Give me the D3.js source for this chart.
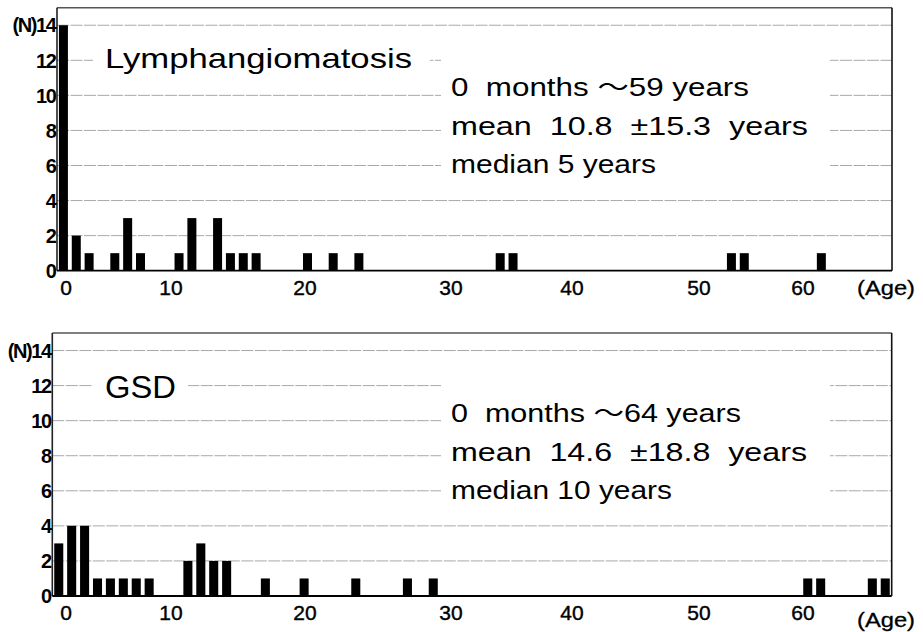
<!DOCTYPE html>
<html>
<head>
<meta charset="utf-8">
<script src="https://cdn.jsdelivr.net/npm/d3@7"></script>
<style>
  html, body { margin: 0; padding: 0; background: #fff; }
  svg { display: block; }
  text { font-family: "Liberation Sans", Arial, "Noto Sans CJK JP", sans-serif; fill: #000; }
</style>
</head>
<body>
<svg id="chart" width="923" height="632"></svg>
<script>
// ---------------- DATA ----------------
const ageCategories = d3.range(0, 65);               // one category per year of age
const lymphAges   = [0, 1, 2, 4, 5, 6, 9, 10, 12, 13, 14, 15, 19, 21, 23, 34, 35, 52, 53, 59];
const lymphCounts = [14, 2, 1, 1, 3, 1, 1, 3, 3, 1, 1, 1, 1, 1, 1, 1, 1, 1, 1, 1];
const gsdAges     = [0, 1, 2, 3, 4, 5, 6, 7, 10, 11, 12, 13, 16, 19, 23, 27, 29, 58, 59, 63, 64];
const gsdCounts   = [3, 4, 4, 1, 1, 1, 1, 1, 2, 3, 2, 2, 1, 1, 1, 1, 1, 1, 1, 1, 1];
const yTickValues = [0, 2, 4, 6, 8, 10, 12, 14];
const xTickValues = [0, 10, 20, 30, 40, 50, 60];
const xTickLabels = ["0", "10", "20", "30", "40", "50", "60"];
const lymphTitle  = "Lymphangiomatosis";
const gsdTitle    = "GSD";
const lymphStats  = ["0  months \uFF5E59 years", "mean  10.8  \u00B115.3  years", "median 5 years"];
const gsdStats    = ["0  months \uFF5E64 years", "mean  14.6  \u00B118.8  years", "median 10 years"];
const yUnit = "(N)";
const xUnit = "(Age)";

// ---------------- LAYOUT ----------------
const svg = d3.select("#chart");
// tick labels of the original sit at irregular places along the axis
const xLabelScale = d3.scaleLinear().domain(xTickValues).range([66, 171, 305, 451, 572, 699, 803]);

const panels = [
  { ages: lymphAges, counts: lymphCounts, title: lymphTitle, stats: lymphStats,
    left: 57, right: 892, top: 7.7, bottom: 270.7,
    titleSize: 28, titleLen: 307, titleDy: 8, titleBox: 337,
    statTop: 96, statLens: [298, 357, 205], unitDy: 24 },
  { ages: gsdAges, counts: gsdCounts, title: gsdTitle, stats: gsdStats,
    left: 52.3, right: 891.7, top: 333, bottom: 596,
    titleSize: 32, titleLen: 71, titleDy: 12, titleBox: 95,
    statTop: 422, statLens: [290, 356, 221], unitDy: 31 }
];

panels.forEach(p => {
  const g = svg.append("g");
  const x = d3.scaleBand().domain(ageCategories).range([p.left, p.right])
              .paddingInner(0.3).paddingOuter(0.15);
  const y = d3.scaleLinear().domain([0, 15]).range([p.bottom, p.top]);

  // gridlines
  g.append("g").selectAll("line").data(yTickValues.filter(v => v > 0)).join("line")
    .attr("x1", p.left).attr("x2", p.right)
    .attr("y1", d => y(d)).attr("y2", d => y(d))
    .attr("stroke", "#a8a8a8").attr("stroke-width", 1)
    .attr("stroke-dasharray", "12,1.5");

  // white boxes behind the texts (they hide the gridlines in the original)
  g.append("rect").attr("x", 93).attr("y", y(12) - 18).attr("width", p.titleBox)
    .attr("height", 36).attr("fill", "#fff");
  g.append("rect").attr("x", 441).attr("y", y(13.2)).attr("width", 389)
    .attr("height", y(4.9) - y(13.2)).attr("fill", "#fff");

  // frame
  g.append("line").attr("x1", p.left).attr("x2", p.right).attr("y1", p.top).attr("y2", p.top)
    .attr("stroke", "#555").attr("stroke-width", 1.5);
  g.append("line").attr("x1", p.right).attr("x2", p.right).attr("y1", p.top).attr("y2", p.bottom)
    .attr("stroke", "#111").attr("stroke-width", 1.6);

  // bars
  const rows = p.ages.map((a, i) => ({ age: a, n: p.counts[i] }));
  g.append("g").selectAll("rect").data(rows).join("rect")
    .attr("x", d => x(d.age)).attr("width", x.bandwidth())
    .attr("y", d => y(d.n)).attr("height", d => y(0) - y(d.n))
    .attr("fill", "#000");

  // axes lines
  g.append("line").attr("x1", p.left).attr("x2", p.left).attr("y1", p.top).attr("y2", p.bottom)
    .attr("stroke", "#222").attr("stroke-width", 1.6);
  g.append("line").attr("x1", p.left).attr("x2", p.right).attr("y1", p.bottom).attr("y2", p.bottom)
    .attr("stroke", "#000").attr("stroke-width", 1.8);

  // y tick labels
  g.append("g").selectAll("text").data(yTickValues).join("text")
    .attr("x", p.left - 1.5).attr("y", d => y(d)).attr("dy", "0.36em")
    .attr("text-anchor", "end").attr("font-size", 20).attr("font-weight", "bold")
    .attr("letter-spacing", -1.4)
    .text(d => (d === 14 ? yUnit : "") + d);

  // x tick labels
  g.append("g").selectAll("text").data(xTickValues).join("text")
    .attr("x", d => xLabelScale(d)).attr("y", p.bottom + 24)
    .attr("text-anchor", "middle").attr("font-size", 21)
    .attr("stroke", "#000").attr("stroke-width", 0.4)
    .text((d, i) => xTickLabels[i]);
  g.append("text").attr("x", 857).attr("y", p.bottom + p.unitDy)
    .attr("font-size", 21).attr("textLength", 58).attr("lengthAdjust", "spacingAndGlyphs")
    .attr("stroke", "#000").attr("stroke-width", 0.3)
    .text(xUnit);

  // title
  g.append("text").attr("x", 105).attr("y", y(12) + p.titleDy)
    .attr("font-size", p.titleSize).attr("textLength", p.titleLen).attr("lengthAdjust", "spacingAndGlyphs")
    .text(p.title);

  // stats
  g.append("g").selectAll("text").data(p.stats).join("text")
    .attr("x", 451).attr("y", (d, i) => p.statTop + i * 38.5)
    .attr("font-size", 25).style("white-space", "pre")
    .attr("textLength", (d, i) => p.statLens[i]).attr("lengthAdjust", "spacingAndGlyphs")
    .text(d => d);
});
</script>
</body>
</html>
